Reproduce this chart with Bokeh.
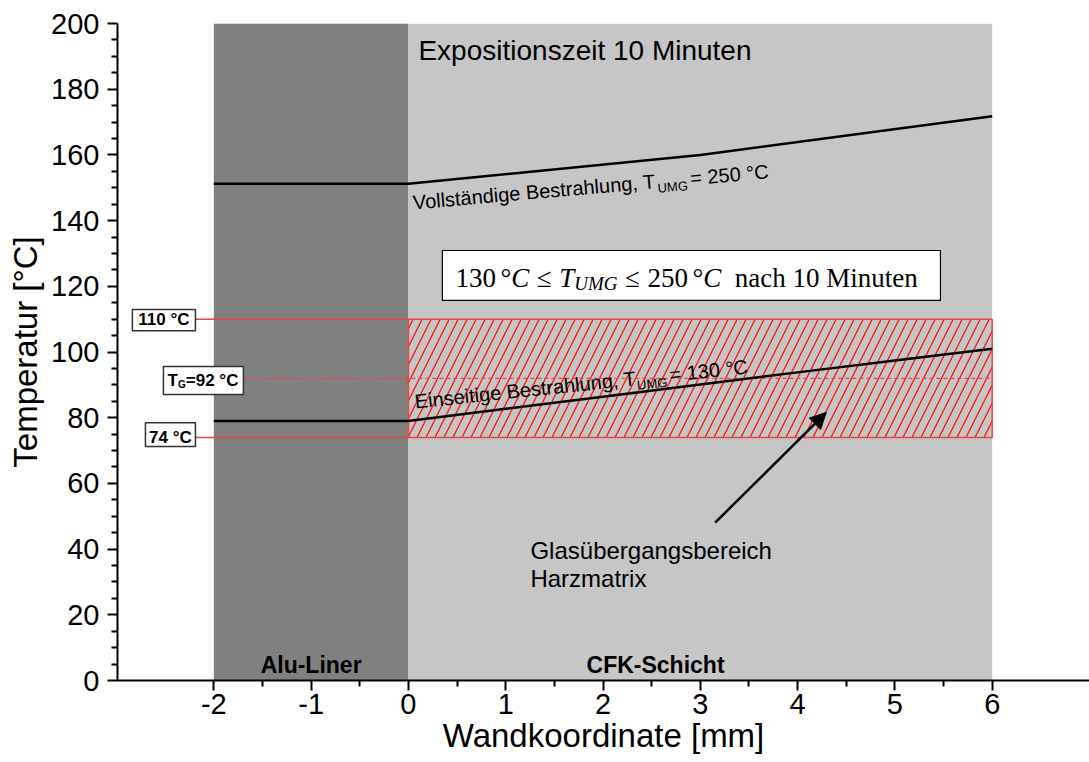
import numpy as np
from bokeh.plotting import figure
from bokeh.models import (Range1d, FixedTicker, Label, BoxAnnotation, Arrow, NormalHead,
                          PrintfTickFormatter)
from bokeh.embed import file_html
from bokeh.resources import INLINE

# ---------------- data ----------------
layer_names = ["Alu-Liner", "CFK-Schicht"]
layer_left = [-2.0, 0.0]
layer_right = [0.0, 6.0]
layer_colors = ["#808080", "#c6c6c6"]

# Vollständige Bestrahlung, T_UMG = 250 °C
x_full = [-2.0, 0.0, 3.0, 6.0]
t_full = [151.2, 151.2, 160.0, 171.8]

# Einseitige Bestrahlung, T_UMG = 130 °C
x_one = [-2.0, 0.0, 1.0, 2.0, 3.0, 4.0, 5.0, 6.0]
t_one = [79.0, 79.0, 82.7, 86.4, 90.1, 93.8, 97.4, 101.0]

glass_x = [0.0, 6.0]
glass_low = 74
glass_high = 110
t_g = 92

x_ticks = [-2, -1, 0, 1, 2, 3, 4, 5, 6]
x_minor = [-1.5, -0.5, 0.5, 1.5, 2.5, 3.5, 4.5, 5.5]
y_ticks = [0, 20, 40, 60, 80, 100, 120, 140, 160, 180, 200]
y_minor = [v for v in range(0, 201, 5) if v % 20 != 0]

# ---------------- font metrics (per 1000 em) ----------------
ARIAL = {' ': 278, ',': 278, '-': 333, '=': 584, '°': 400, 'A': 667, 'B': 667, 'C': 722,
         'E': 667, 'G': 778, 'M': 833, 'T': 611, 'U': 722, 'V': 667, 'a': 556, 'b': 556,
         'c': 500, 'd': 556, 'e': 556, 'g': 556, 'h': 556, 'i': 222, 'l': 222, 'n': 556,
         'o': 556, 'r': 333, 's': 500, 't': 278, 'u': 556, 'ä': 556}
ARIAL_B = {' ': 278, '=': 584, '°': 400, 'C': 722, 'G': 778, 'T': 611}
TIMES_R = {' ': 250, '°': 400, '≤': 549, 'n': 500, 'a': 444, 'c': 444, 'h': 500,
           'M': 889, 'i': 278, 'u': 500, 't': 278, 'e': 444}
TIMES_I = {'C': 667, 'T': 556, 'U': 722, 'M': 833, 'G': 722}


def tw(s, table, size, default=556):
    return sum(table.get(ch, default) for ch in s) * size / 1000.0


SANS = "Liberation Sans"
SERIF = "Liberation Serif"
BASE_FIX = 0.3  # baseline correction, fraction of font size

p = figure(width=1089, height=762, x_range=Range1d(-2.99, 7.0), y_range=Range1d(0, 200),
           output_backend="svg", toolbar_location=None,
           min_border_left=117, min_border_right=0, min_border_top=23, min_border_bottom=82)
p.outline_line_color = None
p.grid.visible = False
p.background_fill_color = "white"
p.border_fill_color = "white"

# layers
p.quad(left=layer_left, right=layer_right, bottom=0, top=200,
       fill_color=layer_colors, line_color=None)

# glass transition region
p.quad(left=[glass_x[0]], right=[glass_x[1]], bottom=[glass_low], top=[glass_high],
       fill_alpha=0, hatch_pattern="/", hatch_color="#ff1010", hatch_scale=18,
       hatch_weight=1.3, line_color="#e84545", line_width=1.5)

# level lines
box_right = -2.189
tg_box_right = -1.696
p.segment(x0=[box_right, box_right], x1=[glass_x[0], glass_x[0]],
          y0=[glass_high, glass_low], y1=[glass_high, glass_low],
          line_color="#e84545", line_width=1.5)
p.segment(x0=[tg_box_right], x1=[glass_x[1]], y0=[t_g], y1=[t_g],
          line_color="#e84545", line_width=1.3, line_dash="4 3")

# curves
p.line(x_full, t_full, line_color="black", line_width=2.5)
p.line(x_one, t_one, line_color="black", line_width=2.5)

# axes
p.xaxis.ticker = FixedTicker(ticks=x_ticks, minor_ticks=x_minor)
p.yaxis.ticker = FixedTicker(ticks=y_ticks, minor_ticks=y_minor)
p.xaxis.axis_label = "Wandkoordinate [mm]"
p.yaxis.axis_label = "Temperatur [°C]"
for ax in (p.xaxis[0], p.yaxis[0]):
    ax.formatter = PrintfTickFormatter(format="%d")
    ax.axis_line_width = 2
    ax.axis_line_color = "black"
    ax.major_tick_line_width = 2
    ax.minor_tick_line_width = 2
    ax.major_tick_line_color = "black"
    ax.minor_tick_line_color = "black"
    ax.major_tick_out = 10
    ax.major_tick_in = 0
    ax.minor_tick_out = 6
    ax.minor_tick_in = 0
    ax.major_label_text_font = SANS
    ax.major_label_text_font_size = "29px"
    ax.major_label_text_color = "black"
    ax.axis_label_text_font = SANS
    ax.axis_label_text_font_style = "normal"
    ax.axis_label_text_font_size = "33px"
    ax.axis_label_text_color = "black"
p.xaxis.major_label_standoff = 3
p.xaxis.axis_label_standoff = 0
p.yaxis.major_label_standoff = 8
p.yaxis.axis_label_standoff = 4


def lab(x, y, text, size, font=SANS, style="normal", align="left", baseline="alphabetic",
        angle=0.0, xo=0.0, yo=0.0):
    if baseline == "alphabetic":
        fix = BASE_FIX * size
        xo = xo - fix * np.sin(angle)
        yo = yo + fix * np.cos(angle)
    p.add_layout(Label(x=x, y=y, x_offset=xo, y_offset=yo, text=text, text_font=font,
                       text_font_size=f"{size}px", text_font_style=style, text_color="black",
                       text_align=align, text_baseline=baseline, angle=angle))


# texts
lab(0.103, 189.3, "Expositionszeit 10 Minuten", 28)
lab(-1.0, 2.7, layer_names[0], 23, style="bold", align="center")
lab(2.54, 2.7, layer_names[1], 23, style="bold", align="center")
lab(1.254, 37.4, "Glasübergangsbereich", 24)
lab(1.254, 28.9, "Harzmatrix", 24)


def rotated(x, y, ang_deg, pieces):
    a = np.deg2rad(ang_deg)
    d = 0.0
    for text, size, drop, gap in pieces:
        d += gap
        xo = d * np.cos(a) + drop * np.sin(a)
        yo = d * np.sin(a) - drop * np.cos(a)
        lab(x, y, text, size, angle=a, xo=xo, yo=yo)
        d += tw(text, ARIAL, size)


rotated(0.051, 143.7, 5.0, [("Vollständige Bestrahlung, T", 20, 0, 0),
                            ("UMG", 13, 5, 0.5), ("= 250 °C", 20, 0, 3)])
rotated(0.072, 83.1, 6.0, [("Einseitige Bestrahlung, T", 20, 0, 0),
                           ("UMG", 13, 5, 0.5), ("= 130 °C", 20, 0, 3)])

# formula box
p.add_layout(BoxAnnotation(left=0.349, right=5.468, bottom=115.7, top=130.9,
                           fill_color="white", fill_alpha=1.0, line_color="black",
                           line_width=1.2, line_alpha=1.0))
pieces = [("130", "normal", 27, 0, 0.0), ("°", "normal", 27, 0, 0.17), ("C", "italic", 27, 0, 0.0),
          ("≤", "normal", 27, 0, 0.28), ("T", "italic", 27, 0, 0.28), ("UMG", "italic", 19, -6, 0.0),
          ("≤", "normal", 27, 0, 0.28), ("250", "normal", 27, 0, 0.28), ("°", "normal", 27, 0, 0.17),
          ("C", "italic", 27, 0, 0.0), ("nach 10 Minuten", "normal", 27, 0, 0.5)]
d = 0.0
for text, style, size, dy, gap in pieces:
    d += gap * 27
    lab(0.483, 120.2, text, size, font=SERIF, style=style, xo=d,
        yo=dy + BASE_FIX * (27 - size))
    table = TIMES_I if style == "italic" else TIMES_R
    d += tw(text, table, size, default=500)

# level label boxes
for (l, r, b, t) in [(-2.837, box_right, 106.5, 112.9), (-2.518, tg_box_right, 87.1, 95.6),
                     (-2.703, box_right, 71.2, 78.5)]:
    p.add_layout(BoxAnnotation(left=l, right=r, bottom=b, top=t, fill_color="white",
                               fill_alpha=1.0, line_color="#333333", line_width=1.5, line_alpha=1.0))
lab((-2.837 + box_right) / 2, glass_high, f"{glass_high} °C", 17, style="bold", align="center",
    baseline="middle")
lab((-2.703 + box_right) / 2, glass_low, f"{glass_low} °C", 17, style="bold", align="center",
    baseline="middle")
x_tg = -2.475
lab(x_tg, t_g - 2.3, "T", 17, style="bold")
lab(x_tg, t_g - 2.3, "G", 10, style="bold", xo=tw("T", ARIAL_B, 17), yo=-4 + BASE_FIX * 7)
lab(x_tg, t_g - 2.3, f"={t_g} °C", 17, style="bold",
    xo=tw("T", ARIAL_B, 17) + tw("G", ARIAL_B, 10))

# arrow
p.add_layout(Arrow(end=NormalHead(size=16, fill_color="black", line_color="black"),
                   x_start=3.154, y_start=48.1, x_end=4.295, y_end=81.6,
                   line_width=2.5, line_color="black"))

open("out.html", "w").write(file_html(p, INLINE))
